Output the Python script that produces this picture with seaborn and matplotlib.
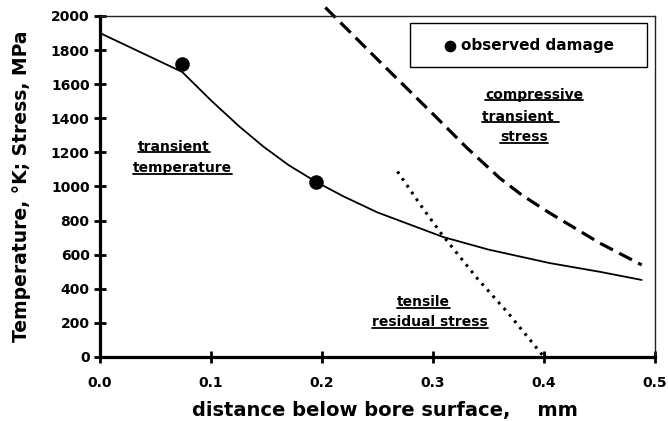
import matplotlib
matplotlib.use("Agg")
import matplotlib.pyplot as plt
import seaborn as sns
import pandas as pd
from matplotlib.patches import Rectangle
from matplotlib.lines import Line2D

# ---- data ----
temp_x = [0.0, 0.074, 0.10, 0.125, 0.147, 0.17, 0.195, 0.22, 0.25, 0.309, 0.35, 0.405, 0.45, 0.488]
temp_y = [1900, 1672, 1505, 1355, 1235, 1125, 1026, 940, 848, 704, 630, 551, 500, 452]

comp_x = [0.203, 0.25, 0.30, 0.33, 0.36, 0.38, 0.405, 0.45, 0.488]
comp_y = [2050, 1745, 1425, 1230, 1050, 950, 845, 669, 540]

tens_x = [0.268, 0.29, 0.308, 0.34, 0.367, 0.40]
tens_y = [1088, 880, 719, 460, 263, 0]

damage_x = [0.074, 0.195]
damage_y = [1718, 1026]

xticks = [0.0, 0.1, 0.2, 0.3, 0.4, 0.5]
xtick_labels = ["0.0", "0.1", "0.2", "0.3", "0.4", "0.5"]
yticks = [0, 200, 400, 600, 800, 1000, 1200, 1400, 1600, 1800, 2000]

sns.set_style("white")
plt.rcParams["font.family"] = ["DejaVu Sans"]
plt.rcParams["font.weight"] = "bold"
for k in ["text.color", "axes.labelcolor", "xtick.color", "ytick.color",
          "xtick.labelcolor", "ytick.labelcolor"]:
    plt.rcParams[k] = "black"

fig = plt.figure(figsize=(6.68, 4.21), dpi=100)
ax = fig.add_axes([100 / 668, 64 / 421, 555 / 668, 341 / 421])

df_t = pd.DataFrame({"x": temp_x, "y": temp_y})
df_c = pd.DataFrame({"x": comp_x, "y": comp_y})
df_r = pd.DataFrame({"x": tens_x, "y": tens_y})
df_d = pd.DataFrame({"x": damage_x, "y": damage_y})

sns.lineplot(data=df_t, x="x", y="y", ax=ax, color="black", linewidth=1.3,
             sort=False, estimator=None)
sns.lineplot(data=df_c, x="x", y="y", ax=ax, color="black", linewidth=2.3,
             sort=False, estimator=None)
ax.lines[-1].set_linestyle((0, (4.5, 2.2)))
ax.lines[-1].set_clip_on(False)
sns.lineplot(data=df_r, x="x", y="y", ax=ax, color="black", linewidth=2.2,
             sort=False, estimator=None)
ax.lines[-1].set_linestyle((0, (0.9, 1.8)))
sns.scatterplot(data=df_d, x="x", y="y", ax=ax, color="black", s=110,
                edgecolor="black", linewidth=0, label="observed damage", zorder=5)

ax.set_xlim(0, 0.5)
ax.set_ylim(0, 2000)
ax.set_xticks(xticks)
ax.set_xticklabels(xtick_labels)
ax.set_yticks(yticks)

for side in ["left", "bottom"]:
    ax.spines[side].set_linewidth(2.3)
    ax.spines[side].set_color("black")
for side in ["top", "right"]:
    ax.spines[side].set_linewidth(1.0)
    ax.spines[side].set_color("#222222")
    ax.spines[side].set_visible(True)

ax.tick_params(axis="both", which="major", direction="inout", length=9,
               width=2.0, color="black", labelcolor="black", labelsize=10,
               pad=3, bottom=True, left=True)
ax.tick_params(axis="x", pad=9)
for lab in ax.get_xticklabels() + ax.get_yticklabels():
    lab.set_fontweight("bold")
    lab.set_color("black")

ax.set_xlabel("distance below bore surface,    mm", fontsize=14, fontweight="bold",
              color="black")
ax.xaxis.label.set_va("baseline")
ax.xaxis.set_label_coords(0.514, -0.172)
ax.set_ylabel("Temperature, °K; Stress, MPa", fontsize=13.5, fontweight="bold",
              color="black")
ax.yaxis.set_label_coords(-0.125, 0.5)

# legend box
ax.add_patch(Rectangle((0.559, 0.850), 0.427, 0.129, transform=ax.transAxes,
                       fill=False, edgecolor="black", linewidth=1.0, zorder=6))
leg = ax.legend(loc="center", bbox_to_anchor=(0.7725, 0.9145), frameon=False,
                fontsize=11, handletextpad=0.3, handlelength=0.8,
                markerscale=0.8, borderpad=0.2)
for t in leg.get_texts():
    t.set_fontweight("bold")
    t.set_color("black")

# annotations
notes = [
    ("transient", 0.0667, 1232),
    ("temperature", 0.074, 1108),
    ("compressive", 0.391, 1537),
    ("transient ", 0.379, 1408),
    ("stress", 0.382, 1290),
    ("tensile", 0.291, 322),
    ("residual stress", 0.297, 205),
]
texts = []
for s, x, y in notes:
    texts.append(ax.text(x, y, s, fontsize=10, fontweight="bold",
                         ha="center", va="center", color="black"))

fig.canvas.draw()
renderer = fig.canvas.get_renderer()
for t in texts:
    bb = t.get_window_extent(renderer)
    y = bb.y0 + 1.5
    line = Line2D([bb.x0, bb.x1], [y, y], transform=None, color="black",
                  linewidth=1.3)
    fig.add_artist(line)

fig.savefig("out.png", dpi=100)
